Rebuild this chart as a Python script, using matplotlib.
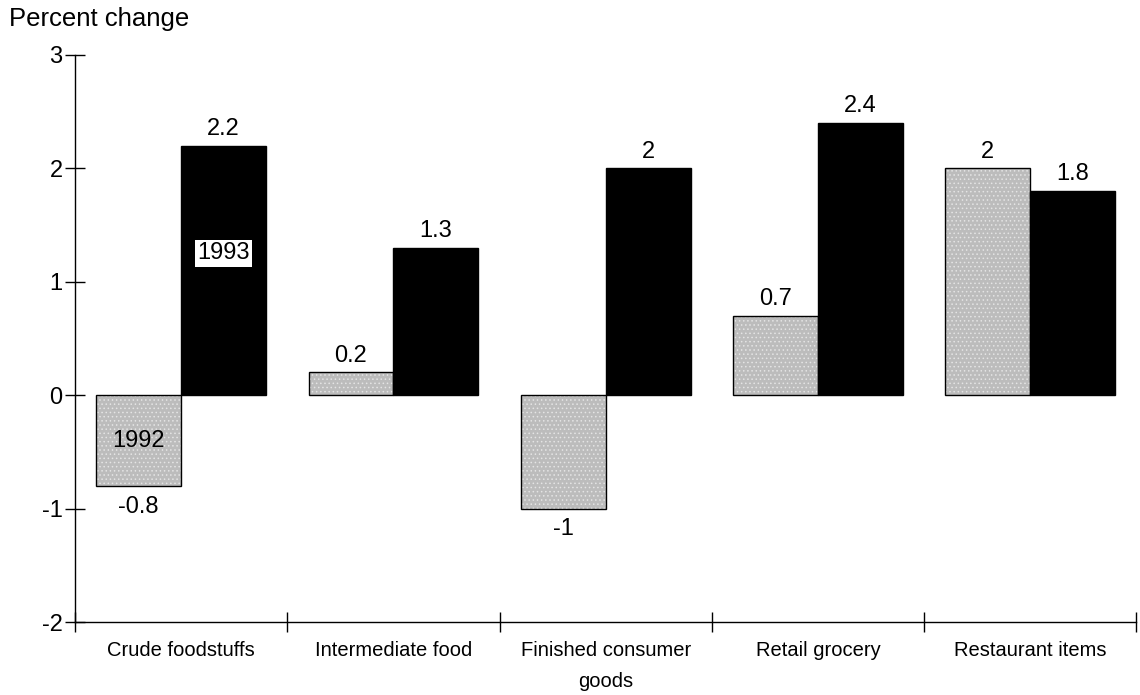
import matplotlib.pyplot as plt
import numpy as np

plt.rcParams['font.family'] = ['Liberation Sans', 'DejaVu Sans']
plt.rcParams['hatch.linewidth'] = 0.6

categories = ["Crude foodstuffs", "Intermediate food", "Finished consumer\ngoods",
              "Retail grocery", "Restaurant items"]
vals_1992 = [-0.8, 0.2, -1, 0.7, 2]
vals_1993 = [2.2, 1.3, 2, 2.4, 1.8]
val_labels_1992 = ["-0.8", "0.2", "-1", "0.7", "2"]
val_labels_1993 = ["2.2", "1.3", "2", "2.4", "1.8"]

fig = plt.figure(figsize=(11.4, 6.95), dpi=100)
ax = fig.add_axes([0.0658, 0.105, 0.931, 0.816])

x = np.arange(len(categories))
w = 0.4
# stippled grey bars: fill + light dot hatch, then black outline on top
ax.bar(x + 0.3, vals_1992, w, color='#bcbcbc', edgecolor='#e4e4e4',
       linewidth=0, hatch='....', zorder=2)
ax.bar(x + 0.3, vals_1992, w, fill=False, edgecolor='black', linewidth=1, zorder=2)
ax.bar(x + 0.7, vals_1993, w, color='black', edgecolor='black', linewidth=1, zorder=2)

for xi, v, t in zip(x + 0.3, vals_1992, val_labels_1992):
    off = 4 if v >= 0 else -7
    ax.annotate(t, (xi, v), xytext=(0, off), textcoords='offset points',
                ha='center', va='bottom' if v >= 0 else 'top', fontsize=17)
for xi, v, t in zip(x + 0.7, vals_1993, val_labels_1993):
    ax.annotate(t, (xi, v), xytext=(0, 4), textcoords='offset points',
                ha='center', va='bottom', fontsize=17)

# series labels inside bars
ax.text(0.3, -0.4, "1992", ha='center', va='center', fontsize=17, zorder=3)
ax.text(0.7, 1.25, "1993", ha='center', va='center', fontsize=17, zorder=3,
        bbox=dict(boxstyle='square,pad=0.1', facecolor='white', edgecolor='none'))

ax.set_xlim(0, 5)
ax.set_ylim(-2, 3)
ax.set_yticks([-2, -1, 0, 1, 2, 3])
ax.set_yticklabels(["-2", "-1", "0", "1", "2", "3"], fontsize=17)
ax.set_xticks(np.arange(0, 6))
ax.set_xticklabels([])
ax.set_xticks(x + 0.5, minor=True)
ax.set_xticklabels(categories, minor=True, fontsize=14.5, linespacing=1.75)
ax.tick_params(axis='x', which='minor', length=0, pad=14)
ax.tick_params(axis='x', which='major', direction='inout', length=14, width=1)
ax.tick_params(axis='y', direction='inout', length=14, width=1, pad=2)

for s in ['top', 'right']:
    ax.spines[s].set_visible(False)
ax.spines['left'].set_linewidth(1)
ax.spines['bottom'].set_linewidth(1)

fig.text(0.008, 0.972, "Percent change", fontsize=18.5, ha='left', va='center')

fig.savefig("out.png", dpi=100)
